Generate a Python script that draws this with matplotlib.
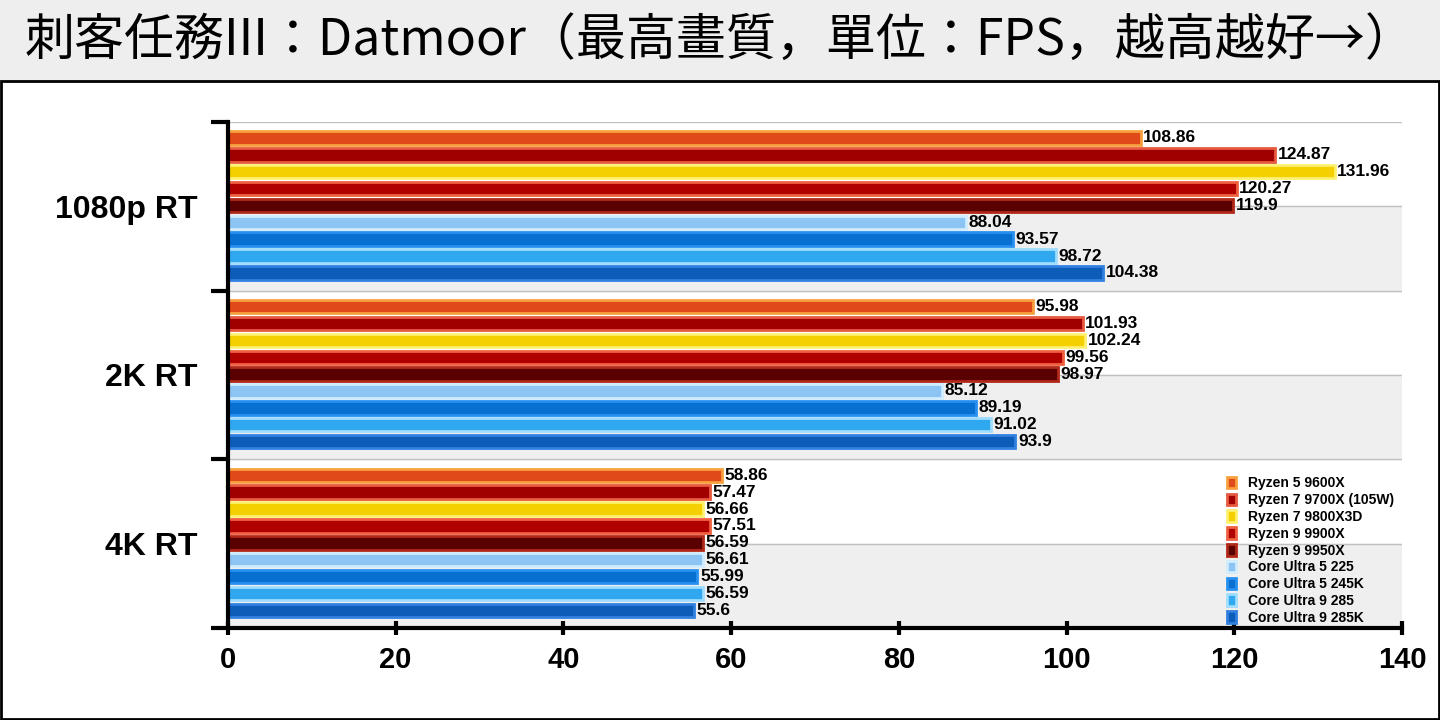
import matplotlib
matplotlib.use("Agg")
import matplotlib.pyplot as plt
from matplotlib.patches import Rectangle
from matplotlib import font_manager as fm

categories = ["1080p RT", "2K RT", "4K RT"]
series = ["Ryzen 5 9600X", "Ryzen 7 9700X (105W)", "Ryzen 7 9800X3D", "Ryzen 9 9900X",
          "Ryzen 9 9950X", "Core Ultra 5 225", "Core Ultra 5 245K", "Core Ultra 9 285",
          "Core Ultra 9 285K"]
values = [
    [108.86, 124.87, 131.96, 120.27, 119.9, 88.04, 93.57, 98.72, 104.38],
    [95.98, 101.93, 102.24, 99.56, 98.97, 85.12, 89.19, 91.02, 93.9],
    [58.86, 57.47, 56.66, 57.51, 56.59, 56.61, 55.99, 56.59, 55.6],
]
face = ["#e04a18", "#a00000", "#f5d000", "#b00000", "#5a0000",
        "#8cc4f4", "#0870d0", "#30a8f0", "#0c5cb8"]
edge = ["#f8a040", "#e85a40", "#fff070", "#f06040", "#b02818",
        "#d0ecff", "#2890f0", "#a0dcff", "#3080e0"]

names = sorted({f.name for f in fm.fontManager.ttflist if "Sans CJK" in f.name})
cjk = next((n for n in names if "TC" in n), names[0] if names else "DejaVu Sans")

plt.rcParams["font.family"] = ["Liberation Sans"]
fig = plt.figure(figsize=(14.4, 7.2), dpi=100)
fig.patch.set_facecolor("white")
fig.add_artist(Rectangle((0, 0.888), 1, 0.112, transform=fig.transFigure, facecolor="#eeeeee", edgecolor="none"))
fig.add_artist(Rectangle((0.001, 0.002), 0.998, 0.886, transform=fig.transFigure, facecolor="none", edgecolor="black", lw=2))
fig.text(0.5, 0.943, "刺客任務III：Datmoor（最高畫質，單位：FPS，越高越好→）",
         ha="center", va="center", fontsize=36, family=cjk)

ax = fig.add_axes([0.1583, 0.1278, 0.8153, 0.7028])
ax.set_xlim(0, 140)
ax.set_ylim(30, 0)
for g in range(3):
    ax.axhspan(g * 10 + 5, g * 10 + 10, color="#efefef", zorder=0)
    ax.axhline(g * 10, color="#c0c0c0", lw=1, zorder=0.5)
    ax.axhline(g * 10 + 5, color="#c0c0c0", lw=1, zorder=0.5)
    for j in range(9):
        y = g * 10 + 0.95 + j
        v = values[g][j]
        ax.barh(y, v, height=0.8, color=face[j], edgecolor=edge[j], lw=2, zorder=2,
                label=series[j] if g == 0 else None)
        ax.text(v + 0.3, y, f"{v:g}", va="center", ha="left", fontsize=12.5, fontweight="bold", zorder=3)

ax.set_yticks([0, 10, 20, 30])
ax.set_yticklabels([])
ax.tick_params(axis="y", length=12, width=3, direction="out")
ax.set_yticks([5, 15, 25], minor=True)
ax.set_yticklabels(categories, minor=True, fontsize=23, fontweight="bold")
ax.tick_params(axis="y", which="minor", length=0, pad=22)
ax.set_xticks(range(0, 141, 20))
ax.tick_params(axis="x", length=10, width=3, direction="inout", labelsize=21, pad=8)
for t in ax.get_xticklabels():
    t.set_fontweight("bold")
for s in ["top", "right"]:
    ax.spines[s].set_visible(False)
ax.spines["left"].set_linewidth(3)
ax.spines["bottom"].set_linewidth(3)

leg = ax.legend(loc="lower right", bbox_to_anchor=(1.0, -0.01), frameon=False,
                prop={"size": 10, "weight": "bold"}, handlelength=0.7, handleheight=0.9,
                labelspacing=0.2, borderaxespad=0.2)
fig.savefig("out.png", dpi=100)
